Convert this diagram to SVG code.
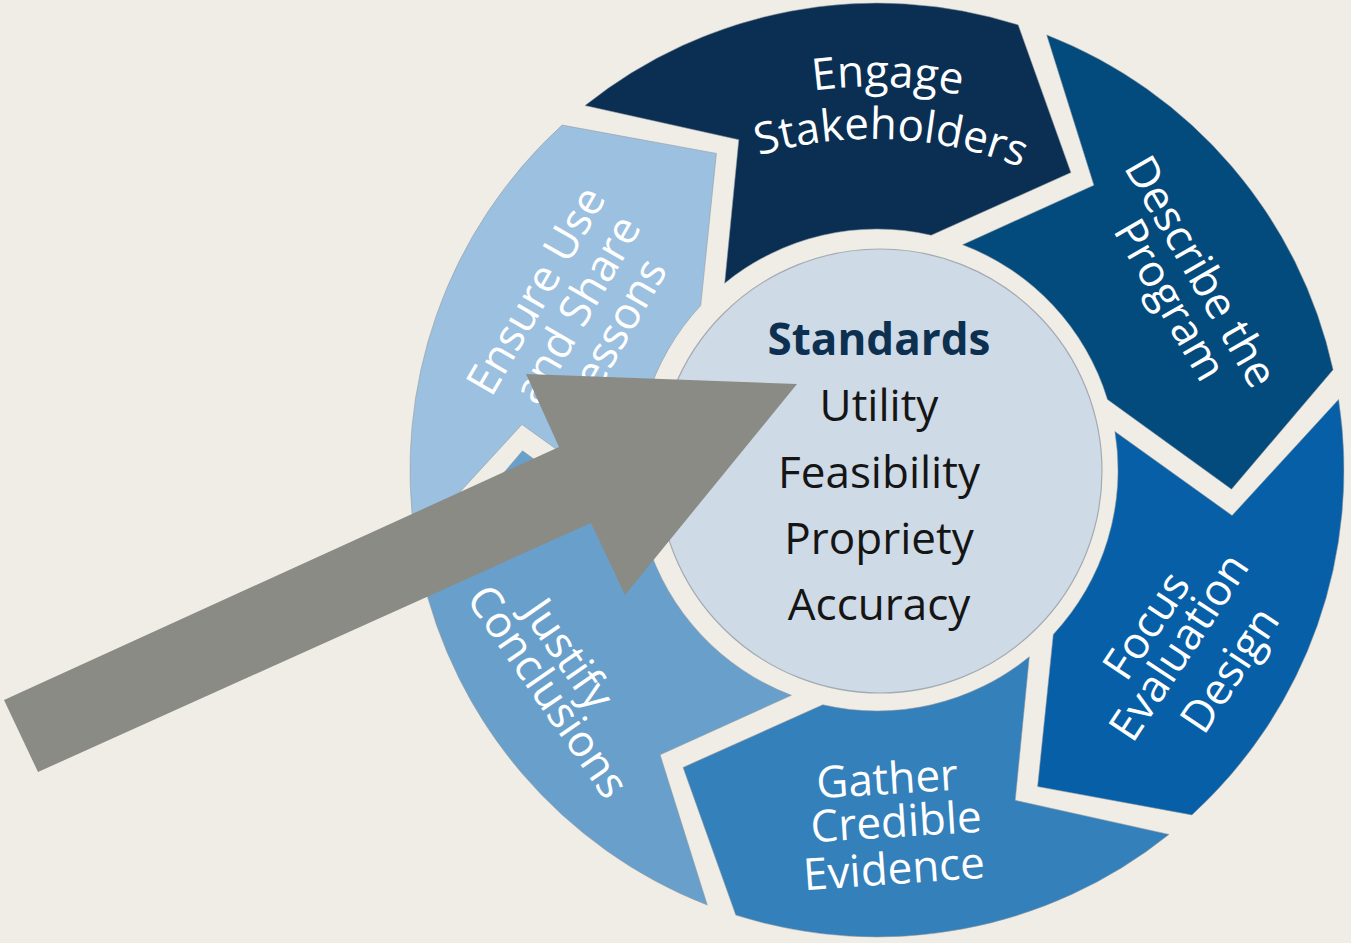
<svg xmlns="http://www.w3.org/2000/svg" width="1351" height="943" viewBox="0 0 1351 943">
<style>
.seg{stroke:#8f989f;stroke-width:1;stroke-opacity:0.55}
.lbl{font-family:"Open Sans","Noto Sans","DejaVu Sans",sans-serif;font-size:44px;fill:#ffffff;text-anchor:middle}
.std{font-family:"Open Sans","Noto Sans","DejaVu Sans",sans-serif;font-size:44px;fill:#151515;text-anchor:middle}
.stdh{font-weight:700;fill:#0d3050}
</style>
<defs>
<path id="arcEngage" d="M 594.2 183.5 A 452 452 0 0 1 1174.3 200.9"/>
<path id="arcStake" d="M 630.6 221 A 399 399 0 0 1 1143 244.3"/>
</defs>
<rect x="0" y="0" width="1351" height="943" fill="#efede6"/>

<g id="engage">
<path class="seg" fill="#0a2f53" d="M 585 105.6 A 467 467 0 0 1 1018.2 24.9 L 1070.9 172.6 L 931.2 235.2 A 241 241 0 0 0 724.7 283.2 L 738.8 139.7 Z"/>
<text class="lbl"><textPath href="#arcEngage" startOffset="50%">Engage</textPath></text>
<text class="lbl"><textPath href="#arcStake" startOffset="50%">Stakeholders</textPath></text>
</g>

<g id="describe">
<path class="seg" fill="#034a7d" d="M 1046.7 34.9 A 467 467 0 0 1 1333.1 369.7 L 1231.5 489.2 L 1107.5 399.5 A 241 241 0 0 0 962.6 244.7 L 1093.9 185.2 Z"/>
<text class="lbl" transform="translate(1200 272) rotate(60)"><tspan x="0" y="14">Describe the</tspan><tspan x="9" y="55">Program</tspan></text>
</g>

<g id="focus">
<path class="seg" fill="#075fa7" d="M 1338.6 399.4 A 467 467 0 0 1 1191.9 814.9 L 1037.6 786.6 L 1053.3 634.4 A 241 241 0 0 0 1114.9 431.5 L 1232.1 515.5 Z"/>
<text class="lbl" transform="translate(1179 647) rotate(-56.5)"><tspan x="0" y="-24">Focus</tspan><tspan x="0" y="15">Evaluation</tspan><tspan x="9" y="70">Design</tspan></text>
</g>

<g id="gather">
<path class="seg" fill="#3480ba" d="M 1169 834.4 A 467 467 0 0 1 735.8 915.1 L 683.1 767.4 L 822.8 704.8 A 241 241 0 0 0 1029.3 656.8 L 1015.2 800.3 Z"/>
<text class="lbl" transform="rotate(-3.5 888 794)" x="888" y="794">Gather</text>
<text class="lbl" transform="rotate(-3.5 897 837)" x="897" y="837">Credible</text>
<text class="lbl" transform="rotate(-4 895 884)" x="895" y="884">Evidence</text>
</g>

<g id="justify">
<path class="seg" fill="#69a0cb" d="M 707.3 905.1 A 467 467 0 0 1 420.9 570.3 L 522.5 450.8 L 646.5 540.5 A 241 241 0 0 0 791.4 695.3 L 660.1 754.8 Z"/>
<text class="lbl" transform="translate(547 692) rotate(55.3)"><tspan x="-19" y="-24">Justify</tspan><tspan x="0" y="14">Conclusions</tspan></text>
</g>

<g id="ensure">
<path class="seg" fill="#9cc0df" d="M 415.4 540.6 A 467 467 0 0 1 562.1 125.1 L 716.4 153.4 L 700.7 305.6 A 241 241 0 0 0 639.1 508.5 L 521.9 424.5 Z"/>
<text class="lbl" transform="translate(537 291) rotate(-60)"><tspan x="0" y="14">Ensure Use</tspan><tspan x="4" y="59">and Share</tspan><tspan x="2" y="103">Lessons</tspan></text>
</g>

<g id="standards">
<circle cx="880" cy="471" r="222" fill="#cedae6" stroke="#a3abb2" stroke-width="1.2"/>
<text class="std stdh" x="879" y="355">Standards</text>
<text class="std" x="879" y="421">Utility</text>
<text class="std" x="879" y="488">Feasibility</text>
<text class="std" x="879" y="554">Propriety</text>
<text class="std" x="879" y="620">Accuracy</text>
</g>

<g id="connectors">
<polygon points="4,700 559,447 526,374 797,384 625,595 591,523 38,772" fill="#8a8b85"/>
</g>
</svg>
